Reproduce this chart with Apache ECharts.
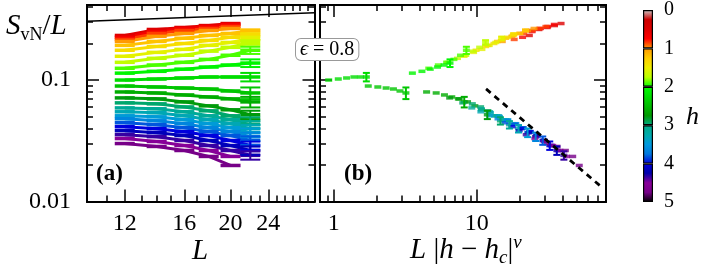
<!DOCTYPE html>
<html><head><meta charset="utf-8">
<script src="https://cdn.jsdelivr.net/npm/echarts@6/dist/echarts.min.js"></script>
<style>html,body{margin:0;padding:0;background:#fff}#c{width:706px;height:268px}</style>
</head><body><div id="c"></div>
<script>
// ---------------- data ----------------
const hValues = [0.5,0.68,0.85,1.0,1.2,1.37,1.55,1.72,1.9,2.07,2.25,2.42,2.6,2.77,2.95,3.12,3.3,3.47,3.65,3.82,4.0,4.17,4.35,4.52,4.75];
const Lvalues = [12,14,16,18,20,22];
// S_vN / L for each h (rows) at L = 12,14,...
const svnPerL = [
 [0.233,0.261,0.271,0.281,0.292],
 [0.225,0.251,0.266,0.276,0.287],
 [0.216,0.242,0.256,0.266,0.276],
 [0.208,0.229,0.242,0.256,0.266],
 [0.193,0.208,0.221,0.233,0.242,0.256],
 [0.176,0.189,0.200,0.212,0.225,0.238],
 [0.157,0.169,0.179,0.193,0.204,0.221],
 [0.140,0.151,0.160,0.173,0.186,0.204],
 [0.125,0.133,0.140,0.148,0.160,0.176],
 [0.114,0.118,0.123,0.128,0.133,0.138],
 [0.100,0.102,0.104,0.106,0.106,0.106],
 [0.0893,0.0877,0.0860,0.0844,0.0813,0.0783],
 [0.0798,0.0783,0.0754,0.0726,0.0700,0.0661],
 [0.0713,0.0700,0.0661,0.0613,0.0569,0.0518],
 [0.0649,0.0637,0.0601,0.0558,0.0508,0.0462],
 [0.0590,0.0580,0.0548,0.0508,0.0471,0.0429],
 [0.0548,0.0538,0.0508,0.0471,0.0437,0.0398],
 [0.0508,0.0498,0.0471,0.0437,0.0405,0.0369],
 [0.0480,0.0462,0.0437,0.0405,0.0376,0.0342],
 [0.0445,0.0429,0.0405,0.0376,0.0349,0.0318],
 [0.0413,0.0398,0.0376,0.0349,0.0318,0.0289],
 [0.0383,0.0369,0.0349,0.0318,0.0289,0.0263],
 [0.0355,0.0342,0.0318,0.0289,0.0263,0.0240],
 [0.0330,0.0312,0.0289,0.0263,0.0235],
 [0.0300,0.0284,0.0263,0.0235,0.0198]
];
// error of the L=22 point
const errLast = [null,null,null,null,0.005,0.005,0.007,0.009,0.012,0.010,0.0085,0.0086,0.0066,0.0041,0.0032,0.003,0.0028,0.003,0.0027,0.0025,0.0023,0.0021,0.0019,null,null];
// |h - h_c|^nu for each h (x of panel b = L * factor)
const scaleB = [1.94,1.74,1.52,1.255,0.995,0.823,0.678,0.523,0.384,0.295,0.0767,0.145,0.371,0.538,0.664,0.768,0.889,1.029,1.171,1.313,1.47,1.647,1.845,2.12,2.6];
const pageLine = [[10,0.305],[30,0.358]];
const slopeLine = [[11.6,0.0845],[76,0.0129]];
const yMajor = [0.01,0.1];
const yMinor = [0.02,0.03,0.04,0.05,0.06,0.07,0.08,0.09,0.2,0.3,0.4];
const xaMajor = [12,16,20,24];
const xaMinor = [10,11,13,14,15,17,18,19,21,22,23,25,26,27,28,29,30];
const xbMajor = [1,10];
const xbMinor = [0.8,0.9,2,3,4,5,6,7,8,9,20,30,40,50,60,70,80];
const cbSegments = [0,1,2,3,4];
const cbTicks = [0,1,2,3,4,5];

// ---------------- colormap (nipy_spectral, reversed over h in [0,5]) ----------------
const CM = [[0,[0,0,0]],[0.05,[0.4667,0,0.5333]],[0.10,[0.5333,0,0.6]],[0.15,[0,0,0.6667]],[0.20,[0,0,0.8667]],[0.25,[0,0.4667,0.8667]],[0.30,[0,0.6,0.8667]],[0.35,[0,0.6667,0.6667]],[0.40,[0,0.6667,0.5333]],[0.45,[0,0.6,0]],[0.50,[0,0.7333,0]],[0.55,[0,0.8667,0]],[0.60,[0,1,0]],[0.65,[0.7333,1,0]],[0.70,[0.9333,0.9333,0]],[0.75,[1,0.8,0]],[0.80,[1,0.6,0]],[0.85,[1,0,0]],[0.90,[0.8667,0,0]],[0.95,[0.8,0,0]],[1.0,[0.8,0.8,0.8]]];
function cmap(t){
  t=Math.max(0,Math.min(1,t));
  for(let i=0;i<CM.length-1;i++){
    const a=CM[i],b=CM[i+1];
    if(t>=a[0]&&t<=b[0]){
      const f=(t-a[0])/(b[0]-a[0]);
      const c=a[1].map((v,k)=>Math.round(255*(v+(b[1][k]-v)*f)));
      return 'rgb('+c.join(',')+')';
    }
  }
  return '#000';
}
const hColor = h => cmap(1-h/5);

// ---------------- axes ----------------
const F = 'Liberation Serif';
const fmt = v => String(+(+v).toPrecision(6));
function axis(gridIndex, position, min, max, ticks, len, labels, margin){
  return {
    type:'log', logBase:10, gridIndex, position, min, max, silent:true,
    axisLine:{show:true, onZero:false, lineStyle:{color:'#000', width:2}},
    axisTick:{show:true, inside:true, length:len, customValues:ticks, lineStyle:{color:'#000', width:1.5}},
    axisLabel: labels ? {show:true, customValues:labels, formatter:fmt, fontFamily:F, fontSize:24, color:'#000', margin:margin} : {show:false},
    splitLine:{show:false}, minorTick:{show:false}, axisPointer:{show:false}
  };
}
const xAxes = [
  axis(0,'bottom',10,30,xaMajor,12,xaMajor,10),   //0
  axis(0,'bottom',10,30,xaMinor,6,null),          //1
  axis(0,'top',10,30,xaMajor,12,null),            //2
  axis(0,'top',10,30,xaMinor,6,null),             //3
  axis(1,'bottom',0.8,80,xbMajor,12,xbMajor,10),  //4
  axis(1,'bottom',0.8,80,xbMinor,6,null),         //5
  axis(1,'top',0.8,80,xbMajor,12,null),           //6
  axis(1,'top',0.8,80,xbMinor,6,null),            //7
  {type:'category', gridIndex:2, data:[''], show:false} //8
];
const yAxes = [
  axis(0,'left',0.01,0.415,yMajor,12,yMajor,16),  //0
  axis(0,'left',0.01,0.415,yMinor,6,null),        //1
  axis(0,'right',0.01,0.415,yMajor,12,null),      //2
  axis(0,'right',0.01,0.415,yMinor,6,null),       //3
  axis(1,'left',0.01,0.415,yMajor,12,null),       //4
  axis(1,'left',0.01,0.415,yMinor,6,null),        //5
  axis(1,'right',0.01,0.415,yMajor,12,null),      //6
  axis(1,'right',0.01,0.415,yMinor,6,null),       //7
  {type:'value', gridIndex:2, min:0, max:5, interval:1, inverse:true, position:'right',
   axisLine:{show:false, onZero:false}, axisTick:{show:false}, splitLine:{show:false},
   axisLabel:{show:true, customValues:cbTicks, fontFamily:F, fontSize:20, color:'#000', margin:11}} //8
];

// ---------------- series ----------------
function errSeries(xi, yi, data, color, capW){
  return {
    type:'custom', xAxisIndex:xi, yAxisIndex:yi, silent:true, z:4,
    encode:{x:0, y:1}, data:data,
    renderItem:(params, api)=>{
      const x=api.value(0), lo=api.value(2), hi=api.value(3);
      const p1=api.coord([x,lo]), p2=api.coord([x,hi]), w=capW/2;
      const st={stroke:color, lineWidth:2};
      return {type:'group', children:[
        {type:'line', shape:{x1:p1[0],y1:p1[1],x2:p2[0],y2:p2[1]}, style:st},
        {type:'line', shape:{x1:p1[0]-w,y1:p1[1],x2:p1[0]+w,y2:p1[1]}, style:st},
        {type:'line', shape:{x1:p2[0]-w,y1:p2[1],x2:p2[0]+w,y2:p2[1]}, style:st}
      ]};
    }
  };
}
const series = [];
hValues.forEach((h,i)=>{
  const c = hColor(h);
  const vals = svnPerL[i];
  const ptsA = vals.map((v,j)=>[Lvalues[j], v]);
  const ptsB = vals.map((v,j)=>[Lvalues[j]*scaleB[i], v]);
  series.push({type:'line', xAxisIndex:0, yAxisIndex:0, data:ptsA, silent:true,
    symbol:'rect', symbolSize:[20,3.5], showSymbol:true, showAllSymbol:true,
    lineStyle:{width:3, color:c}, itemStyle:{color:c}, z:3});
  series.push({type:'scatter', xAxisIndex:4, yAxisIndex:4, data:ptsB, silent:true,
    symbol:'rect', symbolSize:[7,3.5], itemStyle:{color:c}, z:3});
  if (errLast[i] !== null && vals.length === Lvalues.length){
    const j = vals.length-1, v = vals[j], e = errLast[i];
    series.push(errSeries(0,0,[[Lvalues[j], v, v-e, v+e]], c, 20));
    series.push(errSeries(4,4,[[Lvalues[j]*scaleB[i], v, v-e, v+e]], c, 7));
  }
});
series.push({type:'line', xAxisIndex:0, yAxisIndex:0, data:pageLine, silent:true, symbol:'none',
  lineStyle:{color:'#000', width:1.5}, z:5});
series.push({type:'line', xAxisIndex:4, yAxisIndex:4, data:slopeLine, silent:true, symbol:'none',
  lineStyle:{color:'#000', width:2.8, type:[6,5]}, z:5});
cbSegments.forEach(k=>{
  const stops=[];
  for(let s=0;s<=20;s++){ const f=s/20; stops.push({offset:f, color:cmap(1-(k+f)/5)}); }
  series.push({type:'bar', xAxisIndex:8, yAxisIndex:8, stack:'cb', data:[1], barWidth:'100%', silent:true,
    itemStyle:{color:new echarts.graphic.LinearGradient(0,0,0,1,stops), borderColor:'#000', borderWidth:1.2}});
});

// ---------------- chart ----------------
const chart = echarts.init(document.getElementById('c'), null, {renderer:'canvas'});
chart.setOption({
  animation:false,
  backgroundColor:'#fff',
  grid:[
    {left:87, top:5, width:227.5, height:196.5},
    {left:320, top:5, width:286, height:196.5},
    {left:643, top:7, width:10, height:195}
  ],
  xAxis:xAxes, yAxis:yAxes, series:series,
  graphic:[
    {type:'text', left:6, top:12, silent:true, style:{text:'{s|S}{sub|vN}{n|/}{s|L}', fill:'#000',
      rich:{s:{fontFamily:F, fontStyle:'italic', fontSize:29, lineHeight:36},
            n:{fontFamily:F, fontSize:29, lineHeight:36},
            sub:{fontFamily:F, fontSize:18, lineHeight:18, verticalAlign:'bottom'}}}},
    {type:'text', left:192, top:237, silent:true, style:{text:'L', fontFamily:F, fontStyle:'italic', fontSize:29, fill:'#000'}},
    {type:'text', left:410, top:233, silent:true, style:{text:'{i|L}{n| |}{i|h}{n| − }{i|h}{sub|c}{n||}{sup|ν}', fill:'#000',
      rich:{i:{fontFamily:F, fontStyle:'italic', fontSize:29, lineHeight:34},
            n:{fontFamily:F, fontSize:29, lineHeight:34},
            sub:{fontFamily:F, fontStyle:'italic', fontSize:19, lineHeight:18, verticalAlign:'bottom'},
            sup:{fontFamily:F, fontStyle:'italic', fontSize:19, lineHeight:18, verticalAlign:'top'}}}},
    {type:'text', left:96, top:163, silent:true, style:{text:'(a)', fontFamily:F, fontWeight:'bold', fontSize:23, fill:'#000'}},
    {type:'text', left:344, top:163, silent:true, style:{text:'(b)', fontFamily:F, fontWeight:'bold', fontSize:23, fill:'#000'}},
    {type:'text', left:686, top:104, silent:true, style:{text:'h', fontFamily:F, fontStyle:'italic', fontSize:26, fill:'#000'}},
    {type:'text', left:295, top:38, silent:true, z:10, style:{text:'{e|ϵ} = 0.8', fontFamily:F, fontSize:20, fill:'#000',
      backgroundColor:'#fff', borderColor:'#999', borderWidth:1, borderRadius:5, padding:[1,4,0,4],
      rich:{e:{fontFamily:F, fontStyle:'italic', fontSize:20}}}}
  ]
});
</script>
</body></html>
